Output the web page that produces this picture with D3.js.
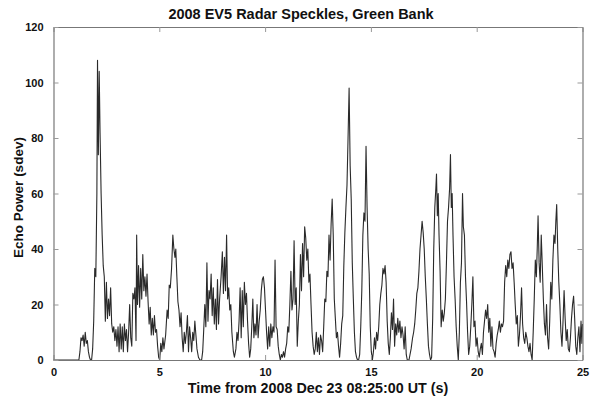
<!DOCTYPE html>
<html><head><meta charset="utf-8">
<script src="https://cdn.jsdelivr.net/npm/d3@7"></script>
<style>
html,body{margin:0;padding:0;background:#fff;}
svg{display:block;}
text{font-family:"Liberation Sans",Arial,Helvetica,sans-serif;font-weight:bold;fill:#111;}
</style></head>
<body>
<svg id="chart" width="596" height="401"></svg>
<script>
const title = "2008 EV5 Radar Speckles, Green Bank";
const xLabel = "Time from 2008 Dec 23 08:25:00 UT (s)";
const yLabel = "Echo Power (sdev)";
const xTicks = [0, 5, 10, 15, 20, 25];
const yTicks = [0, 20, 40, 60, 80, 100, 120];

const timeS = [
0,1.2,1.25,1.3,1.35,1.4,1.45,1.5,1.55,1.6,1.65,1.7,1.75,1.8,1.85,1.9,1.95,2.0,2.05,2.08,2.12,2.16,2.2,2.25,2.3,2.35,2.4,2.45,2.5,2.55,2.6,2.65,2.7,2.75,2.8,2.85,2.9,2.95,
3.0,3.05,3.1,3.15,3.2,3.25,3.3,3.35,3.4,3.45,3.5,3.55,3.6,3.65,3.7,3.75,3.8,3.85,3.9,3.93,3.97,4.02,4.07,4.12,4.17,4.22,4.27,4.32,4.37,4.42,4.47,4.52,4.57,4.62,4.67,4.72,4.77,4.82,4.87,4.92,4.97,
5.02,5.07,5.12,5.17,5.22,5.3,5.37,5.42,5.47,5.52,5.58,5.64,5.69,5.74,5.78,5.83,5.88,5.93,5.98,6.03,6.08,6.13,6.18,6.23,6.28,6.33,6.38,6.43,6.48,6.53,6.58,6.63,6.68,6.73,6.78,6.85,6.92,
7.0,7.05,7.1,7.15,7.2,7.25,7.3,7.35,7.4,7.45,7.5,7.55,7.6,7.65,7.7,7.75,7.8,7.85,7.92,7.98,8.03,8.08,8.13,8.18,8.23,8.28,8.33,8.38,8.43,8.5,8.55,8.62,8.67,8.72,8.77,8.82,8.87,8.92,8.97,
9.02,9.07,9.12,9.17,9.22,9.27,9.32,9.37,9.42,9.47,9.52,9.57,9.62,9.67,9.72,9.77,9.82,9.87,9.92,9.97,10.02,10.07,10.12,10.17,10.22,10.27,10.32,10.37,10.42,10.47,10.52,10.57,10.62,10.67,10.72,10.77,10.82,10.87,10.92,10.97,
11.02,11.07,11.12,11.17,11.22,11.27,11.32,11.37,11.42,11.47,11.52,11.57,11.62,11.67,11.72,11.77,11.82,11.87,11.92,11.97,12.02,12.07,12.12,12.17,12.22,12.27,12.32,12.37,12.42,12.47,12.52,12.57,12.62,12.67,12.72,12.77,12.82,12.87,12.92,12.97,
13.02,13.07,13.12,13.17,13.22,13.27,13.32,13.37,13.42,13.47,13.52,13.57,13.62,13.67,13.72,13.77,13.82,13.87,13.92,13.97,14.02,14.07,14.12,14.17,14.22,14.27,14.32,14.37,14.42,14.47,14.52,14.57,14.62,14.67,14.72,14.77,14.82,14.87,14.92,14.97,
15.02,15.07,15.12,15.17,15.22,15.27,15.32,15.37,15.42,15.47,15.52,15.57,15.62,15.67,15.72,15.77,15.82,15.87,15.92,15.97,16.02,16.07,16.12,16.17,16.22,16.27,16.32,16.37,16.42,16.47,16.52,16.57,16.62,16.67,16.72,16.8,16.9,16.97,
17.02,17.07,17.12,17.17,17.22,17.27,17.32,17.37,17.42,17.47,17.52,17.57,17.62,17.67,17.72,17.77,17.82,17.87,17.92,17.97,18.02,18.07,18.1,18.14,18.18,18.22,18.27,18.32,18.37,18.42,18.47,18.52,18.57,18.62,18.67,18.72,18.76,18.8,18.84,18.88,18.93,18.98,
19.03,19.08,19.13,19.18,19.23,19.28,19.33,19.37,19.42,19.47,19.52,19.57,19.62,19.67,19.72,19.77,19.82,19.87,19.92,19.97,20.02,20.07,20.12,20.17,20.22,20.27,20.32,20.37,20.42,20.47,20.52,20.57,20.62,20.67,20.72,20.77,20.82,20.87,20.92,20.97,
21.02,21.07,21.12,21.17,21.22,21.27,21.32,21.37,21.42,21.47,21.52,21.57,21.62,21.67,21.72,21.77,21.82,21.87,21.92,21.97,22.02,22.07,22.12,22.17,22.22,22.27,22.32,22.37,22.42,22.47,22.52,22.57,22.62,22.67,22.72,22.77,22.82,22.86,22.9,22.95,
23.0,23.05,23.1,23.15,23.2,23.25,23.3,23.35,23.4,23.45,23.5,23.55,23.6,23.65,23.7,23.74,23.78,23.83,23.88,23.93,23.98,24.03,24.08,24.13,24.18,24.23,24.28,24.33,24.38,24.43,24.48,24.53,24.58,24.63,24.68,24.73,24.78,24.83,24.88,24.93,24.97,25.0
];
const powerSdev = [
0,0,3,8,7,9,5,10,6,7,3,1,0,0,4,14,33,30,60,108,74,104,82,60,45,34,30,14,28,15,22,16,26,13,10,12,7,11,
5,12,3,13,4,12,3,13,7,11,3,10,20,8,5,24,22,26,7,45,20,34,19,33,22,38,25,30,23,31,21,13,19,9,15,9,16,10,11,5,1,
0,6,3,8,4,9,18,15,27,26,33,45,40,37,40,30,21,18,12,17,8,3,10,6,10,16,3,12,8,3,10,7,14,9,4,1,0,
0,3,11,20,12,35,14,25,22,31,16,26,13,22,11,29,13,22,30,39,24,37,25,45,22,26,18,20,10,3,1,4,10,7,14,26,8,25,12,
28,20,24,14,6,1,4,12,22,8,13,9,20,8,14,18,25,29,30,26,18,10,4,12,5,13,8,12,10,36,12,11,5,2,0,2,1,3,1,4,
6,12,10,20,32,18,22,43,20,26,5,14,20,38,25,42,30,48,44,36,40,28,31,20,10,5,2,4,10,3,8,2,9,7,3,12,22,21,32,30,
45,36,49,58,45,22,15,8,10,5,1,6,13,16,34,46,55,63,80,98,70,58,35,22,10,3,1,0,0,2,12,25,45,53,50,77,55,40,31,12,
3,0,3,8,4,10,7,12,20,24,27,33,31,34,28,14,6,2,8,17,11,22,5,13,9,15,10,14,8,12,9,4,12,2,0,0,4,8,
10,13,18,24,26,32,40,45,50,46,40,30,22,13,5,2,0,1,15,40,55,62,67,52,60,45,32,12,18,14,17,22,35,50,55,62,74,55,60,45,30,22,
12,5,0,10,28,35,60,48,45,30,21,10,2,5,12,20,30,12,14,5,8,3,1,4,6,2,10,14,18,15,20,10,15,5,12,4,3,1,6,9,
11,14,10,13,12,14,28,34,30,36,33,38,39,33,35,28,20,13,16,5,9,16,26,13,8,6,10,8,5,3,6,2,0,10,22,36,30,40,52,35,
28,45,34,22,13,9,20,8,4,14,28,22,36,45,42,50,56,40,28,20,10,5,14,25,15,7,11,4,3,8,15,20,23,15,5,2,8,12,3,14,6,13,10
];

const svg = d3.select("#chart");
const m = {left: 53.5, right: 582.5, top: 27, bottom: 360};

const x = d3.scaleLinear().domain([0, 25]).range([m.left, m.right]);
const y = d3.scaleLinear().domain([0, 120]).range([m.bottom, m.top]);

const data = timeS.map((t, i) => [t, powerSdev[i]]);

svg.append("path")
  .datum(data)
  .attr("fill", "none")
  .attr("stroke", "#2a2a2a")
  .attr("stroke-width", 1.1)
  .attr("stroke-linejoin", "round")
  .attr("d", d3.line().x(d => x(d[0])).y(d => y(d[1])));

const tickLen = 5;
const axB = d3.axisBottom(x).tickValues(xTicks).tickSizeInner(-tickLen).tickSizeOuter(0).tickPadding(8);
const axT = d3.axisTop(x).tickValues(xTicks).tickSizeInner(-tickLen).tickSizeOuter(0).tickFormat("");
const axL = d3.axisLeft(y).tickValues(yTicks).tickSizeInner(-tickLen).tickSizeOuter(0).tickPadding(10);
const axR = d3.axisRight(y).tickValues(yTicks).tickSizeInner(-tickLen).tickSizeOuter(0).tickFormat("");

const gB = svg.append("g").attr("transform", `translate(0,${m.bottom})`).call(axB);
const gT = svg.append("g").attr("transform", `translate(0,${m.top})`).call(axT);
const gL = svg.append("g").attr("transform", `translate(${m.left},0)`).call(axL);
const gR = svg.append("g").attr("transform", `translate(${m.right},0)`).call(axR);

[gB, gT, gL, gR].forEach(g => {
  g.select(".domain").attr("stroke", "#777").attr("stroke-width", 1.2);
  g.selectAll(".tick line").attr("stroke", "#999");
  g.selectAll(".tick text").attr("font-size", 11).attr("font-weight", "bold")
    .attr("font-family", '"Liberation Sans",Arial,sans-serif').attr("fill", "#111");
});

svg.append("text").attr("x", 301).attr("y", 19).attr("text-anchor", "middle")
  .attr("font-size", 14.5).text(title);
svg.append("text").attr("x", (m.left + m.right) / 2).attr("y", 393).attr("text-anchor", "middle")
  .attr("font-size", 14.3).text(xLabel);
svg.append("text").attr("transform", `translate(23,${(m.top + m.bottom) / 2 + 4}) rotate(-90)`)
  .attr("text-anchor", "middle").attr("font-size", 13.5).text(yLabel);
</script>
</body></html>
